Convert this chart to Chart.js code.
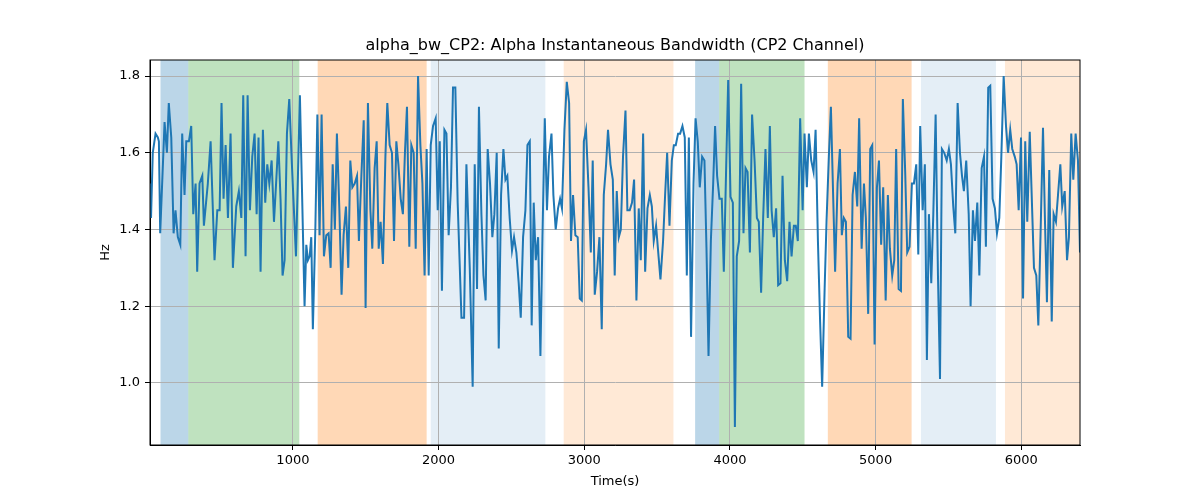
<!DOCTYPE html>
<html lang="en">
<head>
<meta charset="UTF-8" />
<title>alpha_bw_CP2</title>
<script src="https://cdn.jsdelivr.net/npm/chart.js"></script>
<style>
  body { margin: 0; background: #fff; }
  canvas { display: block; }
</style>
</head>
<body>
<canvas id="bwChart" width="1200" height="500"></canvas>
<script>
// time stamps (s) and bandwidth (Hz)
const times = [
  19, 26, 38, 57, 73, 80, 89, 119, 135, 148, 165, 181, 194, 210, 227, 240, 256, 268, 286, 302,
  316, 332, 343, 359, 378, 389, 416, 435, 462, 481, 497, 510, 524, 538, 554, 572, 588, 611, 629, 646,
  659, 675, 689, 705, 721, 737, 751, 764, 778, 794, 810, 824, 838, 854, 870, 886, 900, 915, 929, 943,
  959, 975, 993, 1021, 1048, 1080,
  1092, 1103, 1115, 1126, 1137, 1154, 1168, 1183, 1197, 1213, 1229, 1245, 1259, 1273, 1288, 1302, 1319, 1334, 1348, 1364,
  1380, 1394, 1408, 1424, 1440, 1453, 1470, 1486, 1499, 1515, 1532, 1545, 1561, 1575, 1589, 1602, 1618, 1635, 1648, 1664,
  1680, 1694, 1710, 1724, 1740, 1755, 1769, 1783, 1799, 1813, 1829, 1843, 1859, 1875, 1889, 1904, 1918, 1932, 1946, 1962,
  1980, 1994, 2008, 2023, 2040, 2054, 2069, 2085, 2099, 2115, 2131,
  2157, 2175, 2191, 2214, 2234, 2248, 2264, 2277, 2294, 2308, 2323, 2337, 2353, 2369, 2383, 2399, 2413, 2429, 2445, 2459,
  2472, 2488, 2504, 2518, 2534, 2550, 2564, 2580, 2596, 2610, 2626, 2639, 2653, 2667, 2683, 2699, 2713, 2729, 2744, 2758,
  2775, 2788, 2804, 2820, 2834, 2847, 2864, 2880, 2896, 2909, 2923, 2939, 2955, 2969, 2983, 2997, 3012, 3029, 3045, 3058,
  3072, 3088, 3104, 3120, 3134, 3150, 3163, 3180, 3196, 3209,
  3223, 3237, 3251, 3266, 3283, 3296, 3312, 3328, 3342, 3358, 3374, 3388, 3404, 3418, 3434, 3450, 3464, 3477, 3493, 3510,
  3523, 3541, 3555, 3569, 3585, 3601, 3615, 3628, 3644, 3658, 3674, 3690, 3704, 3718, 3733, 3750, 3764, 3779, 3793, 3809,
  3825, 3839, 3853, 3869, 3885, 3898, 3912, 3928, 3944, 3958, 3974, 3988, 4004, 4020, 4034, 4047, 4063, 4077, 4093, 4107,
  4121, 4137, 4152, 4169, 4185, 4198, 4214, 4228, 4244, 4260, 4274,
  4286, 4301, 4317, 4331, 4347, 4361, 4377, 4393, 4409, 4423, 4439, 4452, 4466, 4482, 4499, 4512, 4528, 4542, 4558, 4574,
  4588, 4604, 4619, 4633, 4650, 4663, 4679, 4693, 4709, 4722, 4739, 4755, 4768, 4782, 4796, 4812, 4828, 4842, 4858, 4874,
  4887, 4904, 4920, 4933, 4949, 4963, 4977, 4993, 5009, 5023, 5038, 5052, 5069, 5084, 5098, 5114, 5128, 5141, 5158, 5174,
  5187, 5203, 5217, 5233, 5249, 5263, 5279, 5293, 5306, 5323, 5338,
  5352, 5366, 5382, 5396, 5412, 5428, 5442, 5455, 5471, 5488, 5503, 5517, 5533, 5547, 5563, 5579, 5593, 5606, 5622, 5639,
  5652, 5668, 5682, 5698, 5712, 5728, 5744, 5757, 5773, 5787, 5803, 5819, 5833, 5849, 5863, 5879, 5895, 5909, 5924, 5938,
  5955, 5968, 5982, 5998, 6012, 6027, 6041, 6058, 6073, 6087, 6103, 6117, 6133, 6149, 6163, 6176, 6192, 6209, 6222, 6238,
  6252, 6268, 6281, 6298, 6314, 6327, 6343, 6357, 6373, 6389, 6403
];
const bandwidth = [
  1.52, 1.43, 1.60, 1.65, 1.64, 1.63, 1.39, 1.68, 1.60, 1.73, 1.64, 1.39, 1.45, 1.38, 1.36, 1.65, 1.49, 1.63, 1.63, 1.67,
  1.44, 1.52, 1.29, 1.52, 1.54, 1.41, 1.52, 1.63, 1.32, 1.45, 1.45, 1.73, 1.48, 1.62, 1.43, 1.65, 1.30, 1.46, 1.50, 1.43,
  1.75, 1.33, 1.75, 1.45, 1.59, 1.65, 1.44, 1.64, 1.29, 1.66, 1.47, 1.57, 1.52, 1.58, 1.42, 1.53, 1.63, 1.48, 1.28, 1.32,
  1.65, 1.74, 1.57, 1.33, 1.75, 1.20,
  1.36, 1.32, 1.33, 1.38, 1.14, 1.40, 1.70, 1.385, 1.70, 1.33, 1.385, 1.39, 1.30, 1.57, 1.40, 1.65, 1.45, 1.23, 1.385, 1.46,
  1.30, 1.58, 1.51, 1.52, 1.54, 1.37, 1.54, 1.685, 1.195, 1.73, 1.45, 1.35, 1.56, 1.63, 1.35, 1.42, 1.31, 1.59, 1.73, 1.62,
  1.60, 1.37, 1.63, 1.57, 1.48, 1.44, 1.60, 1.72, 1.355, 1.62, 1.60, 1.35, 1.80, 1.62, 1.52, 1.28, 1.61, 1.28, 1.62, 1.67,
  1.69, 1.45, 1.63, 1.24, 1.66, 1.65, 1.385, 1.51, 1.77, 1.77, 1.47,
  1.17, 1.17, 1.57, 1.30, 0.99, 1.57, 1.245, 1.72, 1.44, 1.28, 1.215, 1.61, 1.52, 1.38, 1.44, 1.60, 1.09, 1.49, 1.61, 1.53,
  1.54, 1.43, 1.345, 1.38, 1.34, 1.26, 1.17, 1.38, 1.45, 1.62, 1.63, 1.15, 1.47, 1.32, 1.38, 1.07, 1.38, 1.69, 1.45, 1.59,
  1.65, 1.49, 1.40, 1.455, 1.48, 1.455, 1.66, 1.785, 1.73, 1.37, 1.49, 1.385, 1.38, 1.22, 1.215, 1.63, 1.66, 1.51, 1.34, 1.58,
  1.23, 1.29, 1.38, 1.14, 1.49, 1.57, 1.66, 1.57, 1.53, 1.28,
  1.50, 1.38, 1.40, 1.59, 1.71, 1.45, 1.45, 1.47, 1.53, 1.215, 1.455, 1.32, 1.65, 1.29, 1.455, 1.49, 1.46, 1.37, 1.41, 1.33,
  1.27, 1.37, 1.49, 1.60, 1.41, 1.58, 1.62, 1.62, 1.65, 1.65, 1.67, 1.64, 1.28, 1.64, 1.12, 1.52, 1.69, 1.63, 1.51, 1.59,
  1.58, 1.35, 1.07, 1.37, 1.52, 1.67, 1.54, 1.48, 1.48, 1.29, 1.56, 1.79, 1.485, 1.47, 0.885, 1.33, 1.37, 1.78, 1.39, 1.56,
  1.55, 1.34, 1.70, 1.58, 1.43, 1.42, 1.235, 1.43, 1.61, 1.43, 1.67,
  1.45, 1.38, 1.455, 1.255, 1.26, 1.54, 1.32, 1.265, 1.42, 1.33, 1.41, 1.41, 1.37, 1.69, 1.45, 1.65, 1.51, 1.65, 1.58, 1.55,
  1.66, 1.37, 1.16, 0.99, 1.245, 1.42, 1.59, 1.72, 1.48, 1.29, 1.52, 1.61, 1.385, 1.43, 1.42, 1.12, 1.115, 1.49, 1.55, 1.46,
  1.69, 1.35, 1.52, 1.43, 1.18, 1.61, 1.62, 1.10, 1.51, 1.58, 1.36, 1.51, 1.215, 1.49, 1.35, 1.28, 1.32, 1.61, 1.245, 1.24,
  1.74, 1.55, 1.34, 1.355, 1.52, 1.52, 1.57, 1.335, 1.67, 1.45, 1.57,
  1.06, 1.44, 1.26, 1.44, 1.70, 1.28, 1.01, 1.61, 1.60, 1.58, 1.61, 1.57, 1.46, 1.39, 1.73, 1.60, 1.54, 1.50, 1.58, 1.44,
  1.20, 1.45, 1.37, 1.47, 1.28, 1.56, 1.59, 1.355, 1.77, 1.775, 1.48, 1.455, 1.39, 1.43, 1.59, 1.80, 1.67, 1.60, 1.66, 1.61,
  1.59, 1.57, 1.45, 1.64, 1.22, 1.63, 1.42, 1.655, 1.47, 1.30, 1.28, 1.15, 1.40, 1.665, 1.415, 1.21, 1.555, 1.16, 1.44, 1.42,
  1.49, 1.57, 1.46, 1.50, 1.32, 1.38, 1.65, 1.53, 1.65, 1.58, 1.34
];

// shaded segments (s)
const spanStart = [91, 282, 1170, 1946, 2859, 3761, 3926, 4672, 5311, 5888];
const spanEnd   = [282, 1044, 1918, 2733, 3612, 3926, 4512, 5247, 5826, 6403];
const spanKind  = ['blue', 'green', 'orange', 'paleBlue', 'paleOrange', 'blue', 'green', 'orange', 'paleBlue', 'paleOrange'];

const xTicks = [1000, 2000, 3000, 4000, 5000, 6000];
const yTicks = [1.0, 1.2, 1.4, 1.6, 1.8];
const chartTitle = 'alpha_bw_CP2: Alpha Instantaneous Bandwidth (CP2 Channel)';

const kindColors = {
  blue: 'rgba(31,119,180,0.3)',
  green: 'rgba(44,160,44,0.3)',
  orange: 'rgba(255,127,14,0.3)',
  paleBlue: 'rgba(31,119,180,0.12)',
  paleOrange: 'rgba(255,127,14,0.17)'
};

const spanPlugin = {
  id: 'spans',
  beforeDraw(chart) {
    const { ctx, chartArea: a, scales: { x } } = chart;
    ctx.save();
    spanStart.forEach((s, i) => {
      const x0 = Math.max(x.getPixelForValue(s), a.left);
      const x1 = Math.min(x.getPixelForValue(spanEnd[i]), a.right);
      ctx.fillStyle = kindColors[spanKind[i]];
      ctx.fillRect(x0, a.top, x1 - x0, a.bottom - a.top);
    });
    ctx.restore();
  },
  afterDatasetsDraw(chart) {
    const { ctx, chartArea: a } = chart;
    ctx.save();
    ctx.strokeStyle = '#000';
    ctx.lineWidth = 1;
    ctx.strokeRect(a.left, a.top, a.right - a.left, a.bottom - a.top);
    // title centred over the axes, like matplotlib
    ctx.fillStyle = '#000';
    ctx.font = '16px "DejaVu Sans"';
    ctx.textAlign = 'center';
    ctx.textBaseline = 'middle';
    ctx.fillText(chartTitle, (a.left + a.right) / 2, a.top - 14);
    ctx.restore();
  }
};

const font = { family: 'DejaVu Sans', size: 13 };

new Chart(document.getElementById('bwChart'), {
  type: 'line',
  data: {
    datasets: [{
      data: times.map((t, i) => ({ x: t, y: bandwidth[i] })),
      borderColor: '#1f77b4',
      borderWidth: 2,
      pointRadius: 0,
      tension: 0
    }]
  },
  options: {
    responsive: false,
    animation: false,
    layout: { padding: { left: 0, right: 120, top: 60, bottom: 0 } },
    plugins: {
      legend: { display: false },
      tooltip: { enabled: false },
      title: { display: false }
    },
    scales: {
      x: {
        type: 'linear',
        min: times[0],
        max: times[times.length - 1],
        afterBuildTicks: s => { s.ticks = xTicks.map(v => ({ value: v })); },
        afterFit: s => { s.height = 55; },
        grid: { color: '#b0b0b0', tickColor: '#000', tickLength: 5, lineWidth: 1 },
        border: { color: '#000' },
        ticks: { color: '#000', font, padding: 3, maxRotation: 0, callback: v => String(v) },
        title: { display: true, text: 'Time(s)', color: '#000', font, padding: { top: 0, bottom: 11 } }
      },
      y: {
        min: 0.838,
        max: 1.842,
        afterBuildTicks: s => { s.ticks = yTicks.map(v => ({ value: v })); },
        afterFit: s => { s.width = 150; },
        grid: { color: '#b0b0b0', tickColor: '#000', tickLength: 5, lineWidth: 1 },
        border: { color: '#000' },
        ticks: { color: '#000', font, padding: 5, callback: v => v.toFixed(1) },
        title: { display: true, text: 'Hz', color: '#000', font, padding: { top: 98, bottom: 0 } }
      }
    }
  },
  plugins: [spanPlugin]
});
</script>
</body>
</html>
